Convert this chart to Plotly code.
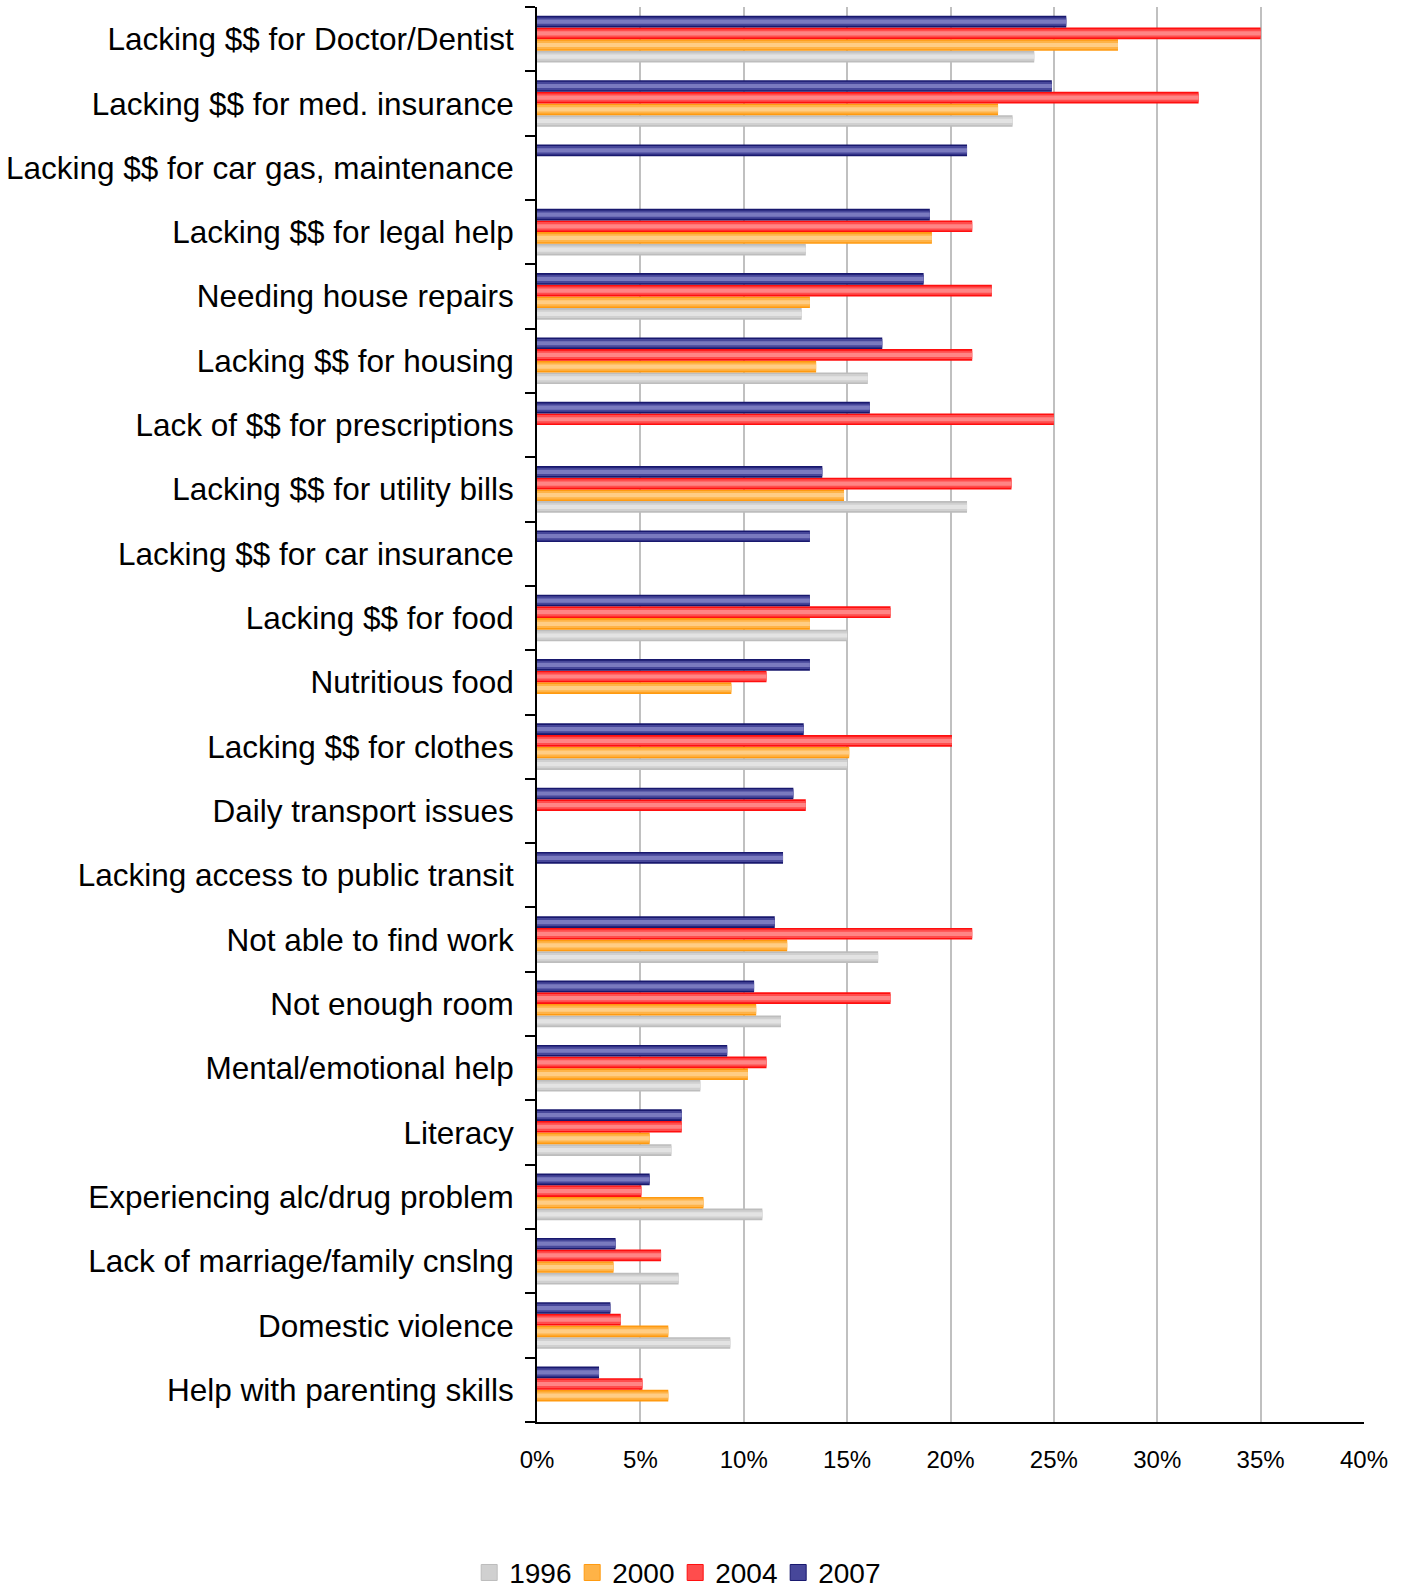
import plotly.graph_objects as go

categories = [
    "Lacking $$ for Doctor/Dentist",
    "Lacking $$ for med. insurance",
    "Lacking $$ for car gas, maintenance",
    "Lacking $$ for legal help",
    "Needing house repairs",
    "Lacking $$ for housing",
    "Lack of $$ for prescriptions",
    "Lacking $$ for utility bills",
    "Lacking $$ for car insurance",
    "Lacking $$ for food",
    "Nutritious food",
    "Lacking $$ for clothes",
    "Daily transport issues",
    "Lacking access to public transit",
    "Not able to find work",
    "Not enough room",
    "Mental/emotional help",
    "Literacy",
    "Experiencing alc/drug problem",
    "Lack of marriage/family cnslng",
    "Domestic violence",
    "Help with parenting skills",
]

v1996 = [24.05, 23.0, None, 13.0, 12.8, 16.0, None, 20.8, None, 15.0, None, 15.0,
         None, None, 16.5, 11.8, 7.9, 6.5, 10.9, 6.85, 9.35, None]
v2000 = [28.1, 22.3, None, 19.1, 13.2, 13.5, None, 14.85, None, 13.2, 9.4, 15.1,
         None, None, 12.1, 10.6, 10.2, 5.45, 8.05, 3.7, 6.35, 6.35]
v2004 = [35.0, 32.0, None, 21.05, 22.0, 21.05, 25.0, 22.95, None, 17.1, 11.1, 20.07,
         13.0, None, 21.05, 17.1, 11.1, 7.0, 5.05, 6.0, 4.05, 5.1]
v2007 = [25.6, 24.9, 20.8, 19.0, 18.7, 16.7, 16.1, 13.8, 13.2, 13.2, 13.2, 12.9,
         12.4, 11.9, 11.5, 10.5, 9.2, 7.0, 5.45, 3.8, 3.55, 3.0]

years = ["1996", "2000", "2004", "2007"]
series = [v1996, v2000, v2004, v2007]
# (edge, mid, light) shades used to imitate the bar gradient
shades = [
    ("#bdbdbd", "#d0d0d0", "#e3e3e3"),
    ("#ff9a10", "#ffb347", "#ffcd85"),
    ("#ff0f0f", "#ff4d4d", "#ff8585"),
    ("#18186e", "#47479a", "#7a7abf"),
]

bargap = 0.275
slot = (1 - bargap) / len(years)
layers = [(1.0, 0), (0.72, 1), (0.36, 2)]  # (width fraction, shade index)

fig = go.Figure()
for frac, si in layers:
    for i, (name, vals, sh) in enumerate(zip(years, series, shades)):
        base = -(1 - bargap) / 2 + i * slot
        w = slot * frac
        fig.add_trace(go.Bar(
            x=vals, y=categories, name=name, orientation="h",
            legendgroup=name, showlegend=False,
            width=w, offset=base + (slot - w) / 2,
            marker=dict(color=sh[si], line=dict(width=0)),
            hoverinfo="skip" if si != 1 else None,
        ))

# legend entries (larger square swatches, like the original)
for name, sh in zip(years, shades):
    fig.add_trace(go.Scatter(
        x=[None], y=[None], mode="markers", name=name, legendgroup=name,
        marker=dict(symbol="square", size=16, color=sh[1],
                    line=dict(color=sh[0], width=1)),
        showlegend=True,
    ))

fig.update_layout(
    width=1406, height=1589,
    margin=dict(l=537, r=42, t=7, b=167),
    paper_bgcolor="white", plot_bgcolor="white",
    barmode="overlay",
    font=dict(family="Liberation Sans, Arial, sans-serif", color="black"),
    showlegend=True,
    legend=dict(orientation="h", x=-0.082, xanchor="left",
                yref="container", y=0.0102, yanchor="middle",
                font=dict(size=28), itemwidth=30, entrywidth=58,
                tracegroupgap=0, bgcolor="rgba(0,0,0,0)"),
)
fig.update_xaxes(
    range=[0, 40], dtick=5, ticksuffix="%",
    showgrid=True, gridcolor="#c0c0c0", gridwidth=2,
    showline=True, linecolor="black", linewidth=2,
    zeroline=False, ticks="", tickfont=dict(size=24),
    ticklabelstandoff=15,
)
fig.update_yaxes(
    categoryorder="array", categoryarray=categories[::-1],
    showline=True, linecolor="black", linewidth=2,
    ticks="outside", tickson="boundaries", ticklen=10, tickwidth=2, tickcolor="black",
    tickfont=dict(size=31.5), showgrid=False, ticklabelstandoff=15,
)

fig.write_html("out.html")
